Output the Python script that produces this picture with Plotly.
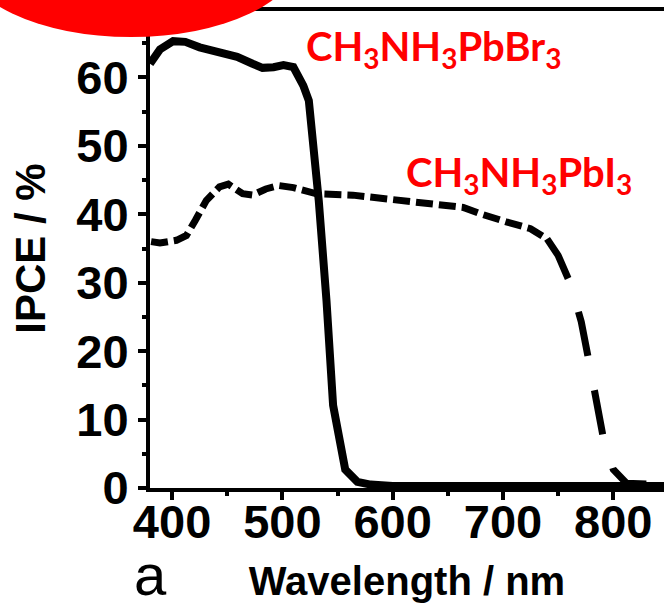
import plotly.graph_objects as go

# CH3NH3PbBr3 (solid)
br_wl = [380, 389, 401, 412, 425, 440, 459, 473, 482, 492, 501, 510, 519, 524,
         533, 540, 546, 557, 568, 580, 600, 650, 700, 750, 800, 846]
br_ipce = [62.0, 64.1, 65.3, 65.2, 64.4, 63.8, 63.0, 62.0, 61.4, 61.5, 61.8, 61.5, 58.8, 56.6,
           42.0, 27.4, 12.1, 2.7, 0.9, 0.5, 0.3, 0.3, 0.3, 0.3, 0.3, 0.3]

# CH3NH3PbI3 (dashed)
i_wl = [381, 389, 404, 413, 421, 431, 443, 451, 464, 473, 485, 497, 510, 531, 564,
        607, 637, 664, 679, 688, 703, 725, 740, 750, 761, 771, 780, 791, 800, 812, 830]
i_ipce = [36.0, 35.8, 36.2, 36.9, 39.1, 42.0, 44.0, 44.4, 43.0, 42.8, 43.7, 44.2, 43.9, 43.0, 42.8,
          42.0, 41.5, 41.0, 40.1, 39.6, 38.9, 37.9, 36.4, 34.0, 29.9, 24.3, 16.8, 7.3, 2.7, 0.7, 0.6]
split = 22  # index where the curve starts falling steeply

x_ticks = [400, 500, 600, 700, 800]
y_ticks = [0, 10, 20, 30, 40, 50, 60]

fig = go.Figure()
fig.add_trace(go.Scatter(x=br_wl, y=br_ipce, mode="lines",
                         line=dict(color="black", width=8), showlegend=False))
fig.add_trace(go.Scatter(x=i_wl[:split + 1], y=i_ipce[:split + 1], mode="lines",
                         line=dict(color="black", width=7, dash="17px,6px"), showlegend=False))
fig.add_trace(go.Scatter(x=i_wl[split:], y=i_ipce[split:], mode="lines",
                         line=dict(color="black", width=7, dash="45px,35px"), showlegend=False))

tickfont = dict(family="Liberation Sans", size=47, color="black", weight="bold")
titlefont = dict(family="Liberation Sans", size=40, color="black", weight="bold")

fig.update_layout(
    width=664, height=603,
    margin=dict(l=150, r=0, t=9, b=115),
    plot_bgcolor="white", paper_bgcolor="white",
    xaxis=dict(range=[380, 846], tickvals=x_ticks, ticks="outside", ticklen=8, tickwidth=4,
               tickcolor="black", showline=True, linewidth=4, linecolor="black",
               showgrid=False, zeroline=False, tickfont=tickfont, ticklabelstandoff=-18,
               minor=dict(ticks="outside", ticklen=4, tickwidth=4, tickcolor="black", dtick=50, tick0=350),
               title=dict(text="Wavelength / nm", font=titlefont, standoff=21)),
    yaxis=dict(range=[0, 70], tickvals=y_ticks, ticks="outside", ticklen=8, tickwidth=4,
               tickcolor="black", showline=True, linewidth=4, linecolor="black",
               showgrid=False, zeroline=False, tickfont=tickfont,
               minor=dict(ticks="outside", ticklen=4, tickwidth=4, tickcolor="black", dtick=5, tick0=5),
               title=dict(text="IPCE / %", font=dict(family="Liberation Sans", size=42, color="black", weight="bold"),
                          standoff=19)),
    shapes=[
        dict(type="line", xref="paper", yref="paper", x0=0, x1=1, y0=1, y1=1,
             line=dict(color="black", width=4), layer="above"),
        dict(type="circle", xref="paper", yref="paper", x0=-0.3638, x1=0.2899, y0=0.9416, y1=1.2754,
             fillcolor="#FF0000", line=dict(width=0), layer="above"),
    ],
    annotations=[
        dict(text="CH<sub>3</sub>NH<sub>3</sub>PbBr<sub>3</sub>", x=519.5, y=64.2, xref="x", yref="y",
             xanchor="left", yanchor="middle", showarrow=False,
             font=dict(family="Lato", size=40, color="#FF0000", weight="bold")),
        dict(text="CH<sub>3</sub>NH<sub>3</sub>PbI<sub>3</sub>", x=610.0, y=45.8, xref="x", yref="y",
             xanchor="left", yanchor="middle", showarrow=False,
             font=dict(family="Lato", size=40, color="#FF0000", weight="bold")),
        dict(text="a", x=0.0, y=-0.18, xref="paper", yref="paper", xanchor="center", yanchor="middle",
             showarrow=False, font=dict(family="Liberation Sans", size=58, color="black")),
    ],
)

fig.write_html("out.html")
